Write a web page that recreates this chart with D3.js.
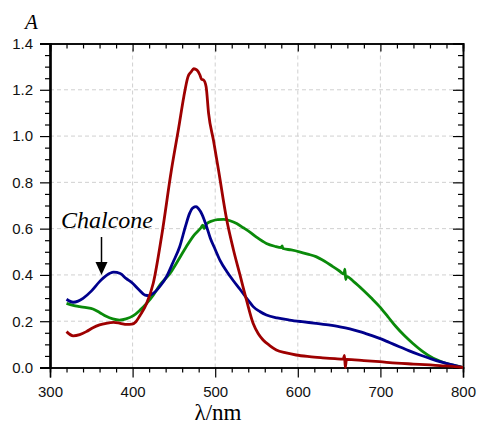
<!DOCTYPE html>
<html>
<head>
<meta charset="utf-8">
<script src="https://cdn.jsdelivr.net/npm/d3@7"></script>
<style>
  body { margin: 0; background: #fff; }
  svg { display: block; }
</style>
</head>
<body>
<div id="chart"></div>
<script>
// spectra: [wavelength nm, absorbance]
var redSeries = [[320,0.155],[328,0.137],[336,0.142],[344,0.155],[352,0.172],[360,0.184],[368,0.191],[377,0.195],[385,0.191],[393,0.186],[399,0.187],[404,0.198],[409,0.225],[417,0.277],[425,0.364],[435,0.565],[447,0.853],[456,1.04],[462,1.17],[467,1.256],[471,1.278],[474,1.291],[478,1.285],[481.5,1.264],[483.5,1.245],[486,1.242],[489,1.213],[492,1.098],[498,0.98],[504,0.853],[514,0.637],[522,0.51],[530,0.40],[538,0.29],[546,0.19],[552,0.147],[558,0.119],[566,0.095],[574,0.076],[586,0.063],[598,0.054],[614,0.047],[630,0.042],[645,0.038],[655,0.036],[656.5,0.052],[657.5,0.0],[659,0.035],[680,0.03],[699,0.025],[720,0.019],[740,0.015],[760,0.011],[772,0.008],[790,0.004],[800,0.0]];
var blueSeries = [[320,0.295],[328,0.282],[334,0.287],[340,0.299],[350,0.33],[360,0.371],[368,0.397],[377,0.412],[385,0.406],[392,0.385],[400,0.364],[408,0.335],[415,0.313],[420,0.311],[425,0.32],[433,0.35],[441,0.392],[449,0.455],[457,0.522],[464,0.61],[469,0.666],[473,0.69],[477,0.695],[480,0.685],[484,0.662],[489,0.615],[494,0.56],[500,0.51],[506,0.462],[514,0.415],[522,0.375],[530,0.338],[540,0.29],[546,0.263],[554,0.242],[562,0.227],[575,0.214],[590,0.205],[605,0.198],[622,0.191],[637,0.184],[651,0.176],[663,0.167],[675,0.155],[687,0.141],[699,0.126],[711,0.108],[723,0.09],[735,0.072],[748,0.054],[760,0.039],[772,0.025],[786,0.012],[800,0.0]];
var greenSeries = [[320,0.277],[328,0.268],[336,0.263],[344,0.259],[352,0.253],[360,0.238],[368,0.221],[376,0.21],[384,0.205],[392,0.21],[401,0.224],[409,0.248],[417,0.277],[425,0.313],[433,0.356],[445,0.405],[455,0.462],[465,0.522],[474,0.57],[483,0.605],[485,0.615],[486.5,0.6],[490,0.622],[497,0.634],[503,0.639],[510,0.64],[518,0.634],[526,0.622],[534,0.604],[542,0.585],[550,0.563],[562,0.536],[572,0.524],[580,0.518],[581,0.525],[582,0.514],[592,0.508],[602,0.5],[612,0.49],[622,0.479],[632,0.46],[642,0.437],[650,0.418],[656,0.404],[657,0.425],[658,0.38],[659,0.394],[668,0.37],[679,0.335],[689,0.3],[699,0.263],[709,0.22],[719,0.176],[729,0.138],[739,0.105],[751,0.07],[764,0.04],[774,0.025],[784,0.014],[792,0.007],[800,0.0]];

var xMajor = [300,400,500,600,700,800];
var yMajor = [0.0,0.2,0.4,0.6,0.8,1.0,1.2,1.4];

var width = 477, height = 424;
var margin = {left: 50, right: 14, top: 43.5, bottom: 56.5};

var svg = d3.select('#chart')
    .append('svg')
    .attr('width', width)
    .attr('height', height);

var x = d3.scaleLinear().domain([300, 800]).range([margin.left, width - margin.right]);
var y = d3.scaleLinear().domain([0, 1.4]).range([height - margin.bottom, margin.top]);

var xMinor = d3.range(300, 801, 20).filter(function(v){ return v % 100 != 0 });
var yMinor = d3.range(0, 28).map(function(i){ return i * 0.05 }).filter(function(v, i){ return i % 4 != 0 });

// grid
svg.append('g')
    .selectAll('line')
    .data(xMajor.slice(1, -1))
    .enter()
    .append('line')
    .attr('x1', function(d){ return x(d) })
    .attr('x2', function(d){ return x(d) })
    .attr('y1', y(0))
    .attr('y2', y(1.4))
    .attr('stroke', '#d0d0d0')
    .attr('stroke-dasharray', '4,3');
svg.append('g')
    .selectAll('line')
    .data(yMajor.slice(1, -1))
    .enter()
    .append('line')
    .attr('x1', x(300))
    .attr('x2', x(800))
    .attr('y1', function(d){ return y(d) })
    .attr('y2', function(d){ return y(d) })
    .attr('stroke', '#d0d0d0')
    .attr('stroke-dasharray', '4,3');

function styleAxis(g, w) {
    g.select('.domain').attr('stroke', '#000').attr('stroke-width', w);
    g.selectAll('.tick line').attr('stroke', '#000').attr('stroke-width', 1.2);
    g.selectAll('text')
        .attr('fill', '#111')
        .style('font-family', 'Arial, "Liberation Sans", sans-serif')
        .style('font-size', '15px');
}

// bottom
svg.append('g')
    .attr('transform', 'translate(0,' + y(0) + ')')
    .call(d3.axisBottom(x).tickValues(xMinor).tickSize(5).tickFormat(''))
    .call(styleAxis, 1.5);
svg.append('g')
    .attr('transform', 'translate(0,' + y(0) + ')')
    .call(d3.axisBottom(x).tickValues(xMajor).tickSize(10).tickPadding(9).tickFormat(d3.format('d')))
    .call(styleAxis, 1.5);
// top
svg.append('g')
    .attr('transform', 'translate(0,' + y(1.4) + ')')
    .call(d3.axisBottom(x).tickValues(xMinor).tickSize(5).tickFormat(''))
    .call(styleAxis, 1.5);
svg.append('g')
    .attr('transform', 'translate(0,' + y(1.4) + ')')
    .call(d3.axisBottom(x).tickValues(xMajor).tickSize(8).tickFormat(''))
    .call(styleAxis, 1.5);
// left
svg.append('g')
    .attr('transform', 'translate(' + x(300) + ',0)')
    .call(d3.axisLeft(y).tickValues(yMinor).tickSize(5).tickFormat(''))
    .call(styleAxis, 2.2);
svg.append('g')
    .attr('transform', 'translate(' + x(300) + ',0)')
    .call(d3.axisLeft(y).tickValues(yMajor).tickSize(10).tickPadding(7).tickFormat(d3.format('.1f')))
    .call(styleAxis, 2.2);
// right
svg.append('g')
    .attr('transform', 'translate(' + x(800) + ',0)')
    .call(d3.axisLeft(y).tickValues(yMinor).tickSize(5).tickFormat(''))
    .call(styleAxis, 1.5);
svg.append('g')
    .attr('transform', 'translate(' + x(800) + ',0)')
    .call(d3.axisLeft(y).tickValues(yMajor).tickSize(10).tickFormat(''))
    .call(styleAxis, 1.5);

// curves
var line = d3.line()
    .x(function(d){ return x(d[0]) })
    .y(function(d){ return y(d[1]) })
    .curve(d3.curveMonotoneX);

var series = [
    {data: greenSeries, color: '#0a8a0a'},
    {data: blueSeries, color: '#00008c'},
    {data: redSeries, color: '#9e0000'}
];
svg.append('g')
    .selectAll('path')
    .data(series)
    .enter()
    .append('path')
    .attr('d', function(d){ return line(d.data) })
    .attr('fill', 'none')
    .attr('stroke', function(d){ return d.color })
    .attr('stroke-width', 2.8)
    .attr('stroke-linejoin', 'round');

// labels
svg.append('text')
    .attr('x', 25)
    .attr('y', 29)
    .style('font-family', '"Liberation Serif", "Times New Roman", serif')
    .style('font-style', 'italic')
    .style('font-size', '21px')
    .text('A');

svg.append('text')
    .attr('x', 218)
    .attr('y', 420)
    .attr('text-anchor', 'middle')
    .style('font-family', '"Liberation Serif", "Times New Roman", serif')
    .style('font-size', '23px')
    .text('λ/nm');

svg.append('text')
    .attr('x', 61)
    .attr('y', 228)
    .style('font-family', '"Liberation Serif", "Times New Roman", serif')
    .style('font-style', 'italic')
    .style('font-size', '24px')
    .text('Chalcone');

// arrow
svg.append('line')
    .attr('x1', 101.5)
    .attr('x2', 101.5)
    .attr('y1', 237)
    .attr('y2', 264)
    .attr('stroke', '#000')
    .attr('stroke-width', 1.5);
svg.append('path')
    .attr('d', 'M95.5,262 L107.5,262 L101.5,275 Z')
    .attr('fill', '#000');
</script>
</body>
</html>
